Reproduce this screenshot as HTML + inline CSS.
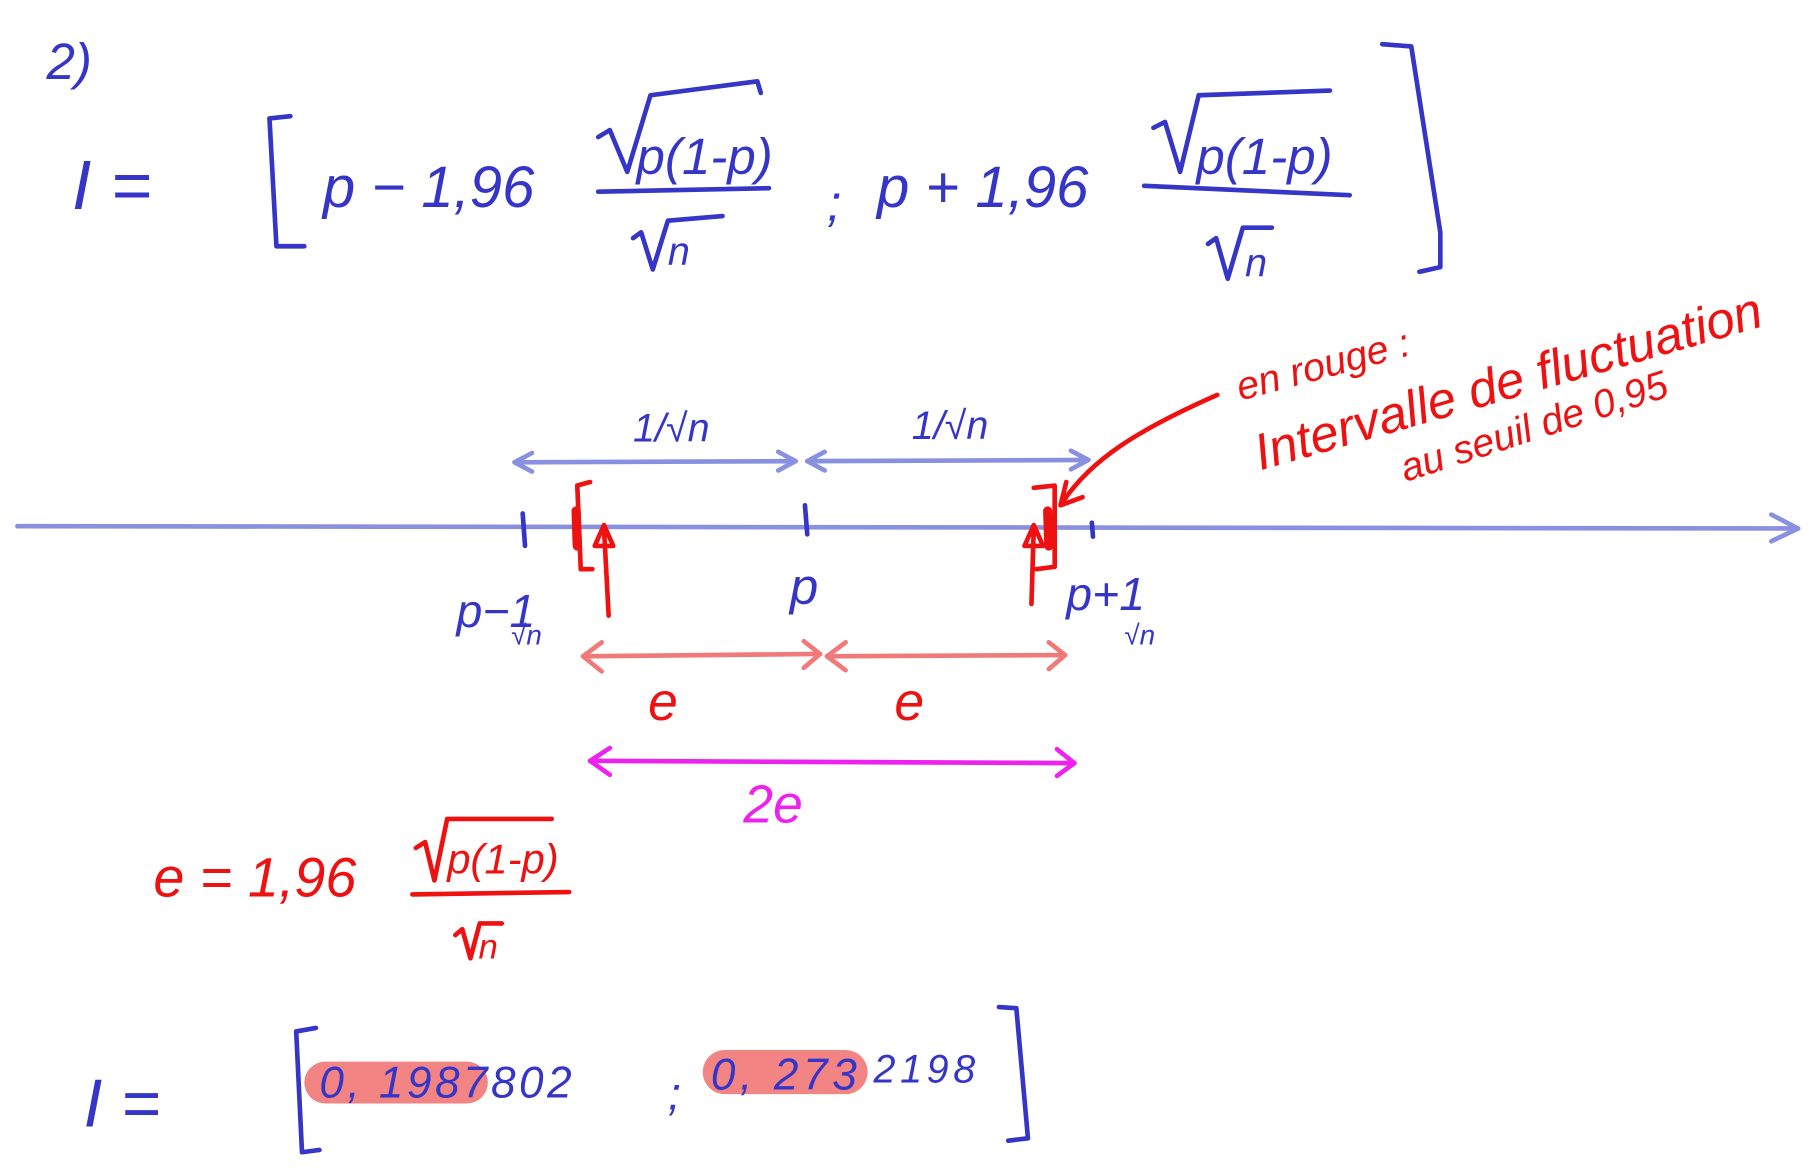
<!DOCTYPE html>
<html><head><meta charset="utf-8"><style>
html,body{margin:0;padding:0;background:#fff;}
svg{display:block}
text{font-family:"Liberation Sans",sans-serif;}
</style></head><body>
<svg width="1812" height="1172" viewBox="0 0 1560 1009" xmlns="http://www.w3.org/2000/svg">
<g fill="none" stroke-linecap="round" stroke-linejoin="round">
<g stroke="#3535c8" stroke-width="4">
<path d="M250 100 L232 102 L238 212 L262 212"/>
<path d="M1190 38 L1215 40 L1240 200 L1240 230 L1222 234"/>
<path d="M515 165 L662 162"/>
<path d="M515 118 L525 112 L540 148 L560 82 L652 70 L655 80"/>
<path d="M985 160 L1162 168"/>
<path d="M993 110 L1003 105 L1016 148 L1032 82 L1145 78"/>
<path d="M545 205 L552 200 L562 232 L575 190 L622 186"/>
<path d="M1040 210 L1047 205 L1057 240 L1070 196 L1095 196"/>
</g>
<g stroke="#8a90e0" stroke-width="4">
<path d="M15 453 L1548 455"/><path d="M1525 443 L1548 455 L1525 466"/>
<path d="M443 398 L685 397"/><path d="M458 390 L443 398 L458 406"/><path d="M670 389 L685 397 L670 405"/>
<path d="M695 397 L937 396"/><path d="M710 389 L695 397 L710 405"/><path d="M922 388 L937 396 L922 404"/>
</g>
<g stroke="#3535c8" stroke-width="4">
<path d="M450 442 L452 470"/><path d="M693 435 L695 460"/><path d="M940 450 L941 462"/>
</g>
<g stroke="#ee1111" stroke-width="4">
<path d="M508 415 L497 418 L500 490 L510 490"/>
<path d="M496 440 L497 470" stroke-width="8"/>
<path d="M524 530 L520 455"/><path d="M512 470 L520 452 L528 470 Z"/>
<path d="M890 420 L908 418 L908 488 L892 490"/>
<path d="M902 440 L903 470" stroke-width="8"/>
<path d="M888 520 L890 455"/><path d="M882 470 L890 452 L898 470 Z"/>
<path d="M1048 340 C980 370 940 395 915 432"/><path d="M918 415 L913 435 L932 428"/>
</g>
<g stroke="#f07a7a" stroke-width="4">
<path d="M502 565 L706 563"/><path d="M518 553 L502 565 L518 578"/><path d="M692 552 L706 563 L692 575"/>
<path d="M712 565 L917 564"/><path d="M728 553 L712 565 L728 577"/><path d="M903 553 L917 564 L903 576"/>
</g>
<g stroke="#ee22ee" stroke-width="4">
<path d="M508 655 L925 657"/><path d="M525 644 L508 655 L525 667"/><path d="M910 645 L925 657 L910 668"/>
</g>
<g stroke="#ee1111" stroke-width="4">
<path d="M355 770 L490 768"/>
<path d="M358 730 L366 725 L374 758 L385 705 L475 705"/>
<path d="M392 805 L398 800 L405 825 L413 795 L432 795"/>
</g>
<rect x="262" y="914" width="158" height="36" rx="18" fill="#f06e6e" opacity="0.85"/>
<rect x="605" y="904" width="142" height="38" rx="19" fill="#f06e6e" opacity="0.85"/>
<g stroke="#3535c8" stroke-width="4">
<path d="M272 885 L255 888 L260 992 L275 990"/>
<path d="M860 867 L875 868 L885 980 L868 982"/>
</g>
</g>
<g fill="#3535c8" font-style="italic">
<text x="40" y="68" font-size="44">2)</text>
<text x="62" y="180" font-size="60">I =</text>
<text x="278" y="178" font-size="50">p − 1,96</text>
<text x="548" y="150" font-size="44">p(1-p)</text>
<text x="712" y="190" font-size="44">;</text>
<text x="755" y="178" font-size="50">p + 1,96</text>
<text x="1030" y="150" font-size="44">p(1-p)</text>
<text x="575" y="228" font-size="34">n</text>
<text x="1072" y="238" font-size="34">n</text>
<text x="545" y="380" font-size="34">1/√n</text>
<text x="785" y="378" font-size="34">1/√n</text>
<text x="393" y="540" font-size="40">p−1</text>
<text x="440" y="555" font-size="24">√n</text>
<text x="680" y="520" font-size="44">p</text>
<text x="918" y="525" font-size="40">p+1</text>
<text x="968" y="555" font-size="24">√n</text>
<text x="72" y="970" font-size="58">I =</text>
<text x="275" y="945" font-size="38" letter-spacing="3">0, 1987802</text>
<text x="575" y="955" font-size="40">;</text>
<text x="612" y="938" font-size="38" letter-spacing="4">0, 273</text>
<text x="752" y="932" font-size="34" letter-spacing="4">2198</text>
</g>
<g fill="#ee1111" font-style="italic">
<text x="558" y="620" font-size="46">e</text>
<text x="770" y="620" font-size="46">e</text>
<text x="132" y="772" font-size="48">e = 1,96</text>
<text x="385" y="752" font-size="36">p(1-p)</text>
<text x="412" y="825" font-size="30">n</text>
<text x="1068" y="345" font-size="34" transform="rotate(-15 1068 345)">en rouge :</text>
<text x="1085" y="405" font-size="44" transform="rotate(-16 1085 405)">Intervalle de fluctuation</text>
<text x="1210" y="415" font-size="34" transform="rotate(-18 1210 415)">au seuil de 0,95</text>
</g>
<text x="640" y="708" font-size="46" fill="#ee22ee" font-style="italic">2e</text>
</svg>
</body></html>
